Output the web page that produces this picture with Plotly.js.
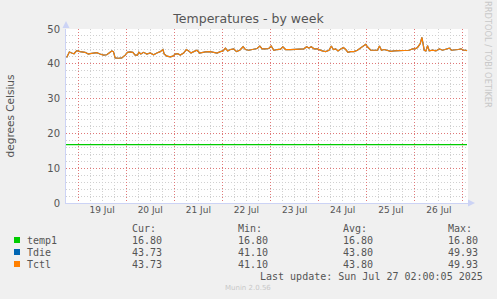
<!DOCTYPE html>
<html>
<head>
<meta charset="utf-8">
<script src="https://cdn.plot.ly/plotly-3.0.1.min.js"></script>
<style>
html,body{margin:0;padding:0;background:#F0F0F0;}
#chart{width:497px;height:299px;}
</style>
</head>
<body>
<div id="chart"></div>
<script>
// ---- data ----
var seriesNames = ["temp1", "Tdie", "Tctl"];
var seriesColors = ["#00CC00", "#0066B3", "#FF8000"];
var curValues = ["16.80", "43.73", "43.73"];
var minValues = ["16.80", "41.10", "41.10"];
var avgValues = ["16.80", "43.80", "43.80"];
var maxValues = ["16.80", "49.93", "49.93"];

var temp1Times = ["2025-07-18 18:00", "2025-07-27 02:00"];
var temp1Values = [16.8, 16.8];

var tctlTimes = [
"2025-07-18 18:20","2025-07-18 19:40","2025-07-18 20:50","2025-07-18 22:00","2025-07-18 23:20",
"2025-07-19 01:00","2025-07-19 03:30","2025-07-19 05:10","2025-07-19 06:00","2025-07-19 07:40",
"2025-07-19 09:20","2025-07-19 11:00","2025-07-19 12:40","2025-07-19 14:20","2025-07-19 15:40",
"2025-07-19 16:50","2025-07-19 17:40","2025-07-19 18:30","2025-07-19 20:10","2025-07-19 21:50",
"2025-07-19 23:30","2025-07-20 00:40","2025-07-20 02:00","2025-07-20 03:20","2025-07-20 04:30",
"2025-07-20 05:40","2025-07-20 06:20","2025-07-20 07:20","2025-07-20 08:40","2025-07-20 10:20",
"2025-07-20 12:00","2025-07-20 13:40","2025-07-20 15:20","2025-07-20 17:00","2025-07-20 18:20",
"2025-07-20 19:00","2025-07-20 20:20","2025-07-20 22:00","2025-07-20 23:20","2025-07-21 00:30",
"2025-07-21 01:40","2025-07-21 03:00","2025-07-21 04:40","2025-07-21 06:00","2025-07-21 07:10",
"2025-07-21 08:20","2025-07-21 09:40","2025-07-21 11:20","2025-07-21 12:40","2025-07-21 13:50",
"2025-07-21 15:30","2025-07-21 18:00","2025-07-21 19:40","2025-07-21 21:20","2025-07-21 23:00",
"2025-07-22 00:20","2025-07-22 01:30","2025-07-22 02:40","2025-07-22 04:00","2025-07-22 05:40",
"2025-07-22 07:00","2025-07-22 08:40","2025-07-22 10:20","2025-07-22 11:30","2025-07-22 13:10",
"2025-07-22 15:40","2025-07-22 17:20","2025-07-22 18:40","2025-07-22 19:50","2025-07-22 21:30",
"2025-07-22 23:10","2025-07-23 00:20","2025-07-23 01:40","2025-07-23 03:20","2025-07-23 05:00",
"2025-07-23 06:10","2025-07-23 07:30","2025-07-23 10:00","2025-07-23 12:30","2025-07-23 15:00",
"2025-07-23 16:40","2025-07-23 18:00","2025-07-23 19:10","2025-07-23 20:20","2025-07-23 21:40",
"2025-07-23 23:20","2025-07-24 00:40","2025-07-24 01:50","2025-07-24 03:30","2025-07-24 05:10",
"2025-07-24 06:20","2025-07-24 07:20","2025-07-24 08:30","2025-07-24 09:40","2025-07-24 10:40",
"2025-07-24 12:20","2025-07-24 13:30","2025-07-24 14:40","2025-07-24 16:00","2025-07-24 17:40",
"2025-07-24 19:20","2025-07-24 21:00","2025-07-24 22:40","2025-07-24 23:30","2025-07-25 00:20",
"2025-07-25 02:00","2025-07-25 03:40","2025-07-25 05:20","2025-07-25 06:20","2025-07-25 07:20",
"2025-07-25 08:40","2025-07-25 10:20","2025-07-25 12:00","2025-07-25 13:40","2025-07-25 17:00",
"2025-07-25 19:30","2025-07-25 21:10","2025-07-25 22:50","2025-07-26 00:10","2025-07-26 01:20",
"2025-07-26 02:40","2025-07-26 03:30","2025-07-26 04:00","2025-07-26 04:40","2025-07-26 05:30",
"2025-07-26 06:20","2025-07-26 07:10","2025-07-26 08:50","2025-07-26 10:30","2025-07-26 12:10",
"2025-07-26 13:50","2025-07-26 15:30","2025-07-26 17:10","2025-07-26 18:20","2025-07-26 20:00",
"2025-07-26 21:40","2025-07-26 23:00","2025-07-27 00:20","2025-07-27 01:30","2025-07-27 02:00"
];
var tctlValues = [
41.8,43.4,43.1,42.9,43.8,
43.5,43.3,42.8,42.9,43.1,
43.2,42.8,42.5,42.6,43.3,
43.7,43.5,41.7,41.6,41.7,
42.5,43.3,43.4,43.3,42.5,
42.5,43.3,42.8,43.3,42.8,
43.1,42.6,43.1,43.5,44.1,
42.8,42.2,42.0,42.2,42.8,
42.9,42.5,43.1,44.1,43.7,
43.1,43.5,43.9,43.1,43.3,
43.4,43.5,43.3,43.1,43.5,
43.7,44.5,43.7,44.1,44.3,
43.5,43.9,44.9,44.1,43.9,
44.1,44.4,45.1,44.3,44.3,
44.4,45.1,43.9,44.1,44.2,
44.9,44.1,44.1,44.1,44.1,
44.3,44.9,44.5,44.9,44.3,
44.3,43.9,43.7,43.5,43.9,
45.1,44.1,44.3,43.7,44.1,
44.7,44.1,43.3,43.5,43.5,
43.9,44.5,45.2,45.6,44.9,
43.9,43.9,43.9,45.1,43.9,
44.1,43.9,43.6,43.7,43.7,
43.7,43.9,44.3,44.3,44.7,
45.8,47.6,46.0,43.9,43.7,
45.2,43.7,43.9,43.7,44.3,
43.9,44.1,44.5,43.9,43.9,
44.1,44.3,43.9,43.9,43.73
];
var tdieTimes = tctlTimes;
var tdieValues = tctlValues;

var titleText = "Temperatures - by week";
var yTitleText = "degrees Celsius";
var lastUpdateText = "Last update: Sun Jul 27 02:00:05 2025";
var sideText = "RRDTOOL / TOBI OETIKER";
var footerText = "Munin 2.0.56";
var xRange = ["2025-07-18 18:00", "2025-07-27 02:30"];

// ---- layout geometry (pixels) ----
var W = 497, H = 299;
var L = 66, R = 468, T = 29, B = 203;
function px(x){ return (x - L) / (R - L); }
function py(y){ return (B - y) / (B - T); }

var traces = [
  {x: tdieTimes, y: tdieValues, name: seriesNames[1], mode: "lines", line: {color: seriesColors[1], width: 1.2}},
  {x: tctlTimes, y: tctlValues, name: seriesNames[2], mode: "lines", line: {color: seriesColors[2], width: 1.2}},
  {x: temp1Times, y: temp1Values, name: seriesNames[0], mode: "lines", xaxis: "x2", line: {color: seriesColors[0], width: 1.2}}
];

var mono = {family: "DejaVu Sans Mono", size: 10, color: "#555"};
var annotations = [];
var shapes = [];

var colX = [131, 237, 342, 447];
var headers = ["Cur:", "Min:", "Avg:", "Max:"];
headers.forEach(function(h, i){
  annotations.push({xref:"paper", yref:"paper", x: px(colX[i]) , y: py(228), text: h, showarrow:false, xanchor:"left", yanchor:"middle", font: mono, borderpad:0});
});
var rowY = [240, 252, 264];
seriesNames.forEach(function(n, r){
  shapes.push({type:"rect", xref:"paper", yref:"paper", x0: px(14), x1: px(20), y0: py(rowY[r]+3), y1: py(rowY[r]-3), fillcolor: seriesColors[r], line:{width:0}});
  annotations.push({xref:"paper", yref:"paper", x: px(26), y: py(rowY[r]), text: n, showarrow:false, xanchor:"left", yanchor:"middle", font: mono, borderpad:0});
  var vals = [curValues[r], minValues[r], avgValues[r], maxValues[r]];
  vals.forEach(function(v, i){
    annotations.push({xref:"paper", yref:"paper", x: px(colX[i]), y: py(rowY[r]), text: v, showarrow:false, xanchor:"left", yanchor:"middle", font: mono, borderpad:0});
  });
});
annotations.push({xref:"paper", yref:"paper", x: px(484), y: py(276), text: lastUpdateText, showarrow:false, xanchor:"right", yanchor:"middle", font: mono, borderpad:0});
annotations.push({xref:"paper", yref:"paper", x: px(248), y: py(288), text: footerText, showarrow:false, xanchor:"center", yanchor:"middle", font: {family:"DejaVu Sans", size:7, color:"#c8c8c8"}, borderpad:0});
annotations.push({xref:"paper", yref:"paper", x: px(488), y: py(54), text: sideText, showarrow:false, xanchor:"center", yanchor:"middle", textangle: 90, font: {family:"DejaVu Sans", size:8.3, color:"#c8c8c8"}, borderpad:0});

// axis arrows
shapes.push({type:"path", xref:"paper", yref:"paper", path: "M " + px(62.5) + "," + py(28) + " L " + px(69.5) + "," + py(28) + " L " + px(66) + "," + py(21) + " Z", fillcolor:"#ccd3f5", line:{width:0}});
shapes.push({type:"path", xref:"paper", yref:"paper", path: "M " + px(468) + "," + py(199.5) + " L " + px(468) + "," + py(206.5) + " L " + px(475) + "," + py(203) + " Z", fillcolor:"#ccd3f5", line:{width:0}});

var layout = {
  width: W, height: H,
  paper_bgcolor: "#F0F0F0", plot_bgcolor: "#FFFFFF",
  margin: {l: L, r: W - R, t: T, b: H - B, pad: 0},
  showlegend: false,
  title: {text: titleText, x: 0.5, xref: "container", xanchor: "center", y: 1 - 19/H, yref: "container", yanchor: "middle", font: {family: "DejaVu Sans", size: 12.5, color: "#555"}},
  xaxis: {
    type: "date",
    range: xRange,
    tick0: "2025-07-19", dtick: 86400000,
    showticklabels: false,
    ticks: "", showline: true, linecolor: "#ccd3f5", linewidth: 1,
    showgrid: true, gridcolor: "#e07878", griddash: "1px,2px", gridwidth: 1,
    minor: {dtick: 6*3600000, tick0: "2025-07-19", showgrid: true, gridcolor: "#d0d0d0", griddash: "1px,2px", gridwidth: 1},
    zeroline: false, fixedrange: true, layer: "above traces"
  },
  xaxis2: {
    type: "date",
    range: xRange,
    overlaying: "x", anchor: "y", side: "bottom",
    tick0: "2025-07-19", dtick: 86400000,
    ticklabelmode: "period", tickformat: "%d %b",
    ticks: "", showline: false, showgrid: false, zeroline: false,
    tickfont: {family: "DejaVu Sans", size: 9, color: "#555"},
    fixedrange: true
  },
  yaxis: {
    range: [0, 50], dtick: 10, tick0: 0,
    ticks: "", showline: true, linecolor: "#ccd3f5", linewidth: 1,
    showgrid: true, gridcolor: "#e07878", griddash: "1px,2px", gridwidth: 1,
    minor: {dtick: 2, showgrid: true, gridcolor: "#d0d0d0", griddash: "1px,2px", gridwidth: 1},
    tickfont: {family: "DejaVu Sans", size: 10, color: "#555"},
    ticklabelstandoff: 3,
    title: {text: yTitleText, font: {family: "DejaVu Sans", size: 10.5, color: "#555"}, standoff: 30},
    zeroline: false, fixedrange: true
  },
  annotations: annotations,
  shapes: shapes
};

Plotly.newPlot("chart", traces, layout, {staticPlot: true, displayModeBar: false});
</script>
</body>
</html>
